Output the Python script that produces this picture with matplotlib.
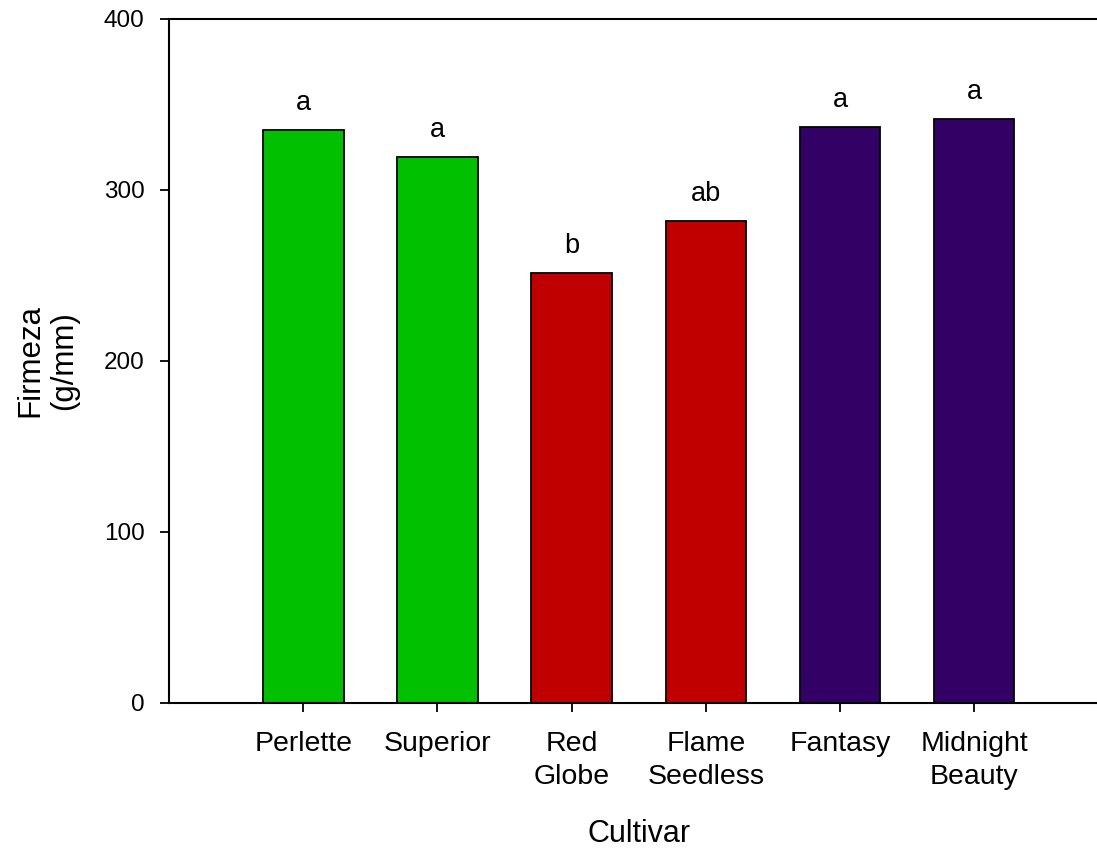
import matplotlib.pyplot as plt
import numpy as np

plt.rcParams['font.family'] = ['Liberation Sans', 'DejaVu Sans']

cultivars = ["Perlette", "Superior", "Red\nGlobe", "Flame\nSeedless", "Fantasy", "Midnight\nBeauty"]
firmeza = [335, 319.5, 251.5, 282, 337, 341.5]
letters = ["a", "a", "b", "ab", "a", "a"]
colors = ["#00C000", "#00C000", "#C00000", "#C00000", "#330066", "#330066"]

fig = plt.figure(figsize=(10.97, 8.52), dpi=100)
ax = fig.add_axes([0.1541, 0.1749, 0.8563, 0.8028])

x = np.arange(1, len(cultivars) + 1)
bars = ax.bar(x, firmeza, width=0.6, color=colors, edgecolor="black", linewidth=1.3)

# significance letters above each bar
for xi, val, lab in zip(x, firmeza, letters):
    ax.annotate(lab, (xi, val), xytext=(0, 10), textcoords="offset points",
                ha="center", va="bottom", fontsize=19.5)

ax.set_xlim(0, 7)
ax.set_ylim(0, 400)
ax.set_yticks([0, 100, 200, 300, 400])
ax.set_xticks(x)
ax.set_xticklabels(cultivars, fontsize=20.5, linespacing=1.32)
ax.tick_params(axis="y", labelsize=17.5, direction="out", length=6.5, width=1.3, pad=11)
ax.tick_params(axis="x", direction="out", length=6.5, width=1.3, pad=14)

for side in ["left", "bottom", "top", "right"]:
    ax.spines[side].set_linewidth(1.5)

ax.set_ylabel("Firmeza\n(g/mm)", fontsize=22.5, linespacing=1.15)
ax.yaxis.set_label_coords(-0.096, 0.5)
ax.set_xlabel("Cultivar", fontsize=22)
ax.xaxis.set_label_coords(0.5, -0.169)

fig.savefig("out.png", dpi=100)
